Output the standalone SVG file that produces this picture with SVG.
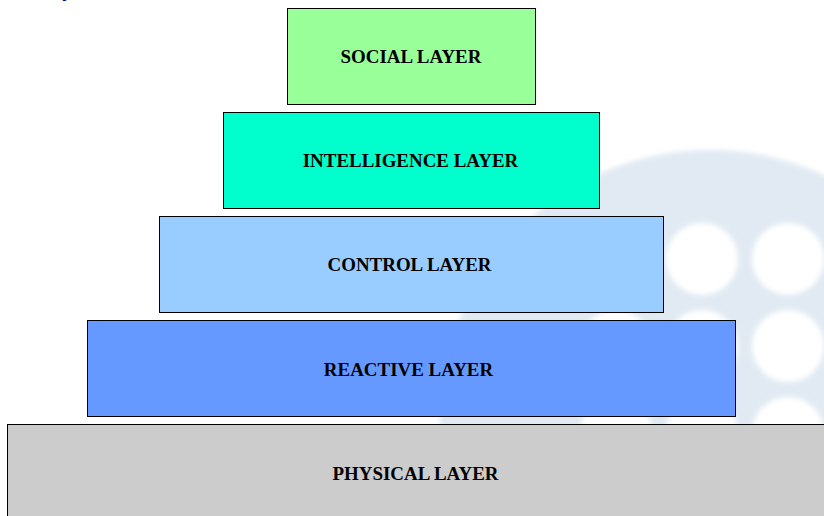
<svg xmlns="http://www.w3.org/2000/svg" width="824" height="516" viewBox="0 0 824 516">
<style>
.l{stroke:#000;stroke-width:1}
.t{font:bold 18.95px "Liberation Serif",serif;fill:#000;text-anchor:middle}
</style>
<defs><filter id="b" x="-5%" y="-5%" width="110%" height="110%"><feGaussianBlur stdDeviation="2.6"/></filter></defs>
<rect width="824" height="516" fill="#fff"/>
<g id="watermark" filter="url(#b)">
<circle cx="710" cy="420" r="270" fill="#e1eaf3"/>
<g fill="#fff">
<circle cx="702" cy="259" r="36"/><circle cx="788" cy="259" r="36"/>
<circle cx="616" cy="346" r="36"/><circle cx="702" cy="346" r="36"/><circle cx="788" cy="346" r="36"/>
<circle cx="616" cy="433" r="36"/><circle cx="702" cy="433" r="36"/><circle cx="788" cy="433" r="36"/>
</g>
</g>
<text x="62" y="-2" style="font:bold 17px 'Liberation Sans',sans-serif;fill:#000080">y</text>
<g id="social"><rect class="l" x="287.500" y="8.500" width="248" height="96" fill="#99ff99"/><text class="t" x="411" y="63">SOCIAL LAYER</text></g>
<g id="intelligence"><rect class="l" x="223.500" y="112.500" width="376" height="96" fill="#00ffcc"/><text class="t" x="410.500" y="167">INTELLIGENCE LAYER</text></g>
<g id="control"><rect class="l" x="159.500" y="216.500" width="504" height="96" fill="#99ccff"/><text class="t" x="409.500" y="271">CONTROL LAYER</text></g>
<g id="reactive"><rect class="l" x="87.500" y="320.500" width="648" height="96" fill="#6699ff"/><text class="t" x="408.500" y="376">REACTIVE LAYER</text></g>
<g id="physical"><rect class="l" x="7.500" y="424.500" width="830" height="110" fill="#cccccc"/><text class="t" x="415.500" y="480">PHYSICAL LAYER</text></g>
</svg>
